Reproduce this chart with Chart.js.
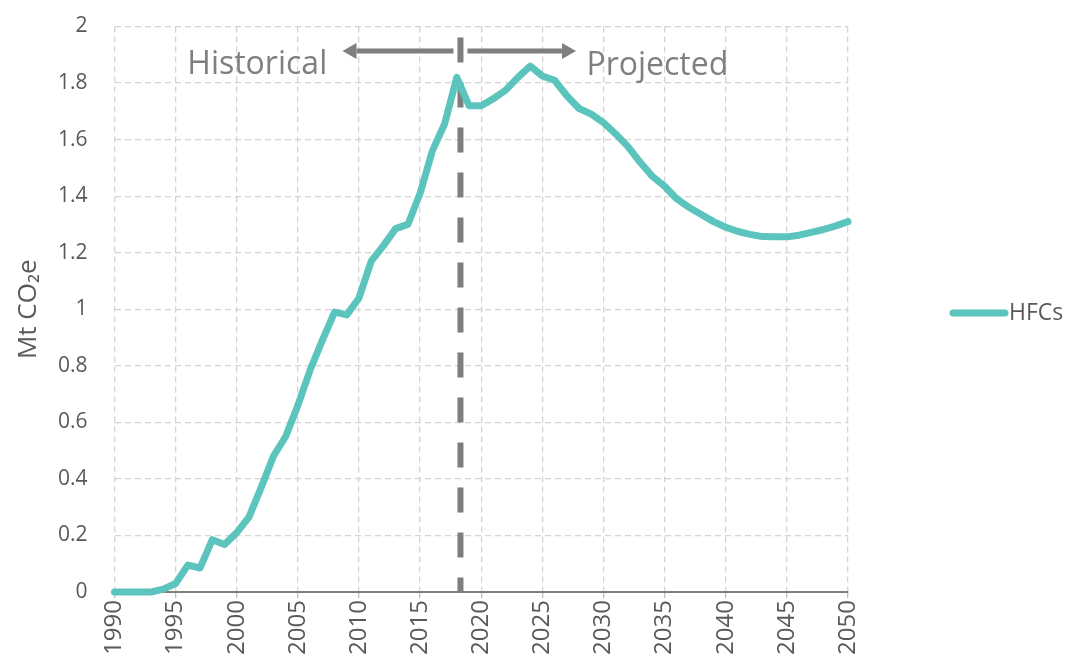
<!DOCTYPE html>
<html><head><meta charset="utf-8">
<script src="https://cdn.jsdelivr.net/npm/chart.js@4/dist/chart.umd.min.js"></script>
<style>html,body{margin:0;padding:0;background:#fff}#wrap{width:1068px;height:671px}</style>
</head><body><div id="wrap"><canvas id="c" width="1068" height="671"></canvas></div>
<script>
// ---- data ----
const years = [1990,1991,1992,1993,1994,1995,1996,1997,1998,1999,
  2000,2001,2002,2003,2004,2005,2006,2007,2008,2009,
  2010,2011,2012,2013,2014,2015,2016,2017,2018,2019,
  2020,2021,2022,2023,2024,2025,2026,2027,2028,2029,
  2030,2031,2032,2033,2034,2035,2036,2037,2038,2039,
  2040,2041,2042,2043,2044,2045,2046,2047,2048,2049,2050];
const hfcValues = [0,0,0,0,0.01,0.03,0.095,0.085,0.185,0.168,
  0.21,0.265,0.37,0.48,0.55,0.66,0.785,0.89,0.99,0.98,
  1.04,1.17,1.225,1.285,1.30,1.41,1.56,1.655,1.82,1.72,
  1.72,1.745,1.775,1.82,1.86,1.825,1.81,1.755,1.71,1.69,
  1.66,1.62,1.575,1.52,1.47,1.435,1.39,1.36,1.335,1.31,
  1.29,1.275,1.265,1.257,1.256,1.256,1.262,1.272,1.282,1.295,1.31];
const seriesLabel = 'HFCs';
const yAxisTitle = 'Mt CO\u2082e';
const xTickYears = [1990,1995,2000,2005,2010,2015,2020,2025,2030,2035,2040,2045,2050];
const yTickValues = [0,0.2,0.4,0.6,0.8,1,1.2,1.4,1.6,1.8,2];
const dividerYear = 2018.3;
const historicalLabel = 'Historical';
const projectedLabel = 'Projected';

// ---- styles ----
const TEAL = '#5bc4bd';
const GRID = '#d4d4d4';
const TICK_COLOR = '#595959';
const ANNOT_COLOR = '#7f7f7f';
const FONT = '"Open Sans", "Noto Sans", sans-serif';

const annotPlugin = {
  id: 'annot',
  beforeDatasetsDraw(chart) {
    const {ctx, scales: {x, y}} = chart;
    const xd = x.getPixelForValue(dividerYear);
    ctx.save();
    // dashed divider
    ctx.strokeStyle = ANNOT_COLOR;
    ctx.lineWidth = 6;
    ctx.setLineDash([25, 20]);
    ctx.beginPath();
    ctx.moveTo(xd, 37.5);
    ctx.lineTo(xd, y.getPixelForValue(0));
    ctx.stroke();
    ctx.setLineDash([]);
    // arrows
    const ay = 51;
    ctx.lineWidth = 5;
    ctx.fillStyle = ANNOT_COLOR;
    const arrow = (x0, x1) => {
      const dir = Math.sign(x1 - x0);
      const hl = 14, hw = 8;
      ctx.beginPath();
      ctx.moveTo(x0, ay);
      ctx.lineTo(x1 - dir * hl, ay);
      ctx.stroke();
      ctx.beginPath();
      ctx.moveTo(x1, ay);
      ctx.lineTo(x1 - dir * hl, ay - hw);
      ctx.lineTo(x1 - dir * hl, ay + hw);
      ctx.closePath();
      ctx.fill();
    };
    arrow(xd - 7, x.getPixelForValue(2008.65));
    arrow(xd + 7, x.getPixelForValue(2027.75));
    // texts
    ctx.font = '32px ' + FONT;
    ctx.textBaseline = 'alphabetic';
    ctx.textAlign = 'right';
    ctx.fillText(historicalLabel, x.getPixelForValue(2007.4), 74);
    ctx.textAlign = 'left';
    ctx.fillText(projectedLabel, x.getPixelForValue(2028.6), 75);
    ctx.restore();
  },
  afterDraw(chart) {
    const {ctx} = chart;
    const ds = chart.data.datasets[0];
    ctx.save();
    ctx.strokeStyle = ds.borderColor;
    ctx.lineWidth = 7;
    ctx.lineCap = 'round';
    ctx.beginPath();
    ctx.moveTo(953, 313);
    ctx.lineTo(1005, 313);
    ctx.stroke();
    ctx.fillStyle = TICK_COLOR;
    ctx.font = '23px ' + FONT;
    ctx.textBaseline = 'middle';
    ctx.textAlign = 'left';
    ctx.fillText(ds.label, 1009, 313);
    ctx.restore();
  }
};

new Chart(document.getElementById('c'), {
  type: 'line',
  data: {
    datasets: [{
      label: seriesLabel,
      data: years.map((yr, i) => ({x: yr, y: hfcValues[i]})),
      borderColor: TEAL,
      backgroundColor: TEAL,
      borderWidth: 7,
      pointRadius: 0,
      borderJoinStyle: 'round',
      borderCapStyle: 'round',
      tension: 0,
      clip: false
    }]
  },
  options: {
    responsive: false,
    animation: false,
    devicePixelRatio: 1,
    layout: {padding: {top: 26.5, right: 220, left: 0, bottom: 0}},
    plugins: {legend: {display: false}, tooltip: {enabled: false}},
    scales: {
      x: {
        type: 'linear',
        min: 1990, max: 2050,
        afterBuildTicks: s => { s.ticks = xTickYears.map(v => ({value: v})); },
        afterFit: s => { s.height = 79; s.paddingLeft = 0; s.paddingRight = 0; s.paddingTop = 0; s.paddingBottom = 0; },
        ticks: {
          callback: v => String(v),
          maxRotation: 90, minRotation: 90,
          color: TICK_COLOR,
          font: {family: FONT, size: 24},
          padding: 2
        },
        grid: {color: GRID, lineWidth: 1.3, drawTicks: true, tickLength: 6, tickColor: '#bfbfbf', tickBorderDash: []},
        border: {display: true, color: '#7f7f7f', width: 2, dash: [6, 4]}
      },
      y: {
        min: 0, max: 2,
        afterBuildTicks: s => { s.ticks = yTickValues.map(v => ({value: v})); },
        afterFit: s => { s.width = 114.5; s.paddingTop = 0; s.paddingBottom = 0; s.paddingLeft = 0; s.paddingRight = 0; },
        ticks: {
          callback: v => String(v),
          color: TICK_COLOR,
          font: {family: FONT, size: 21},
          padding: 27
        },
        title: {
          display: true, text: yAxisTitle, color: TICK_COLOR,
          font: {family: FONT, size: 26}, padding: {top: 13, bottom: 0}
        },
        grid: {color: GRID, lineWidth: 1.3, drawTicks: false},
        border: {display: false, dash: [6, 4]}
      }
    }
  },
  plugins: [annotPlugin]
});
</script>
</body></html>
